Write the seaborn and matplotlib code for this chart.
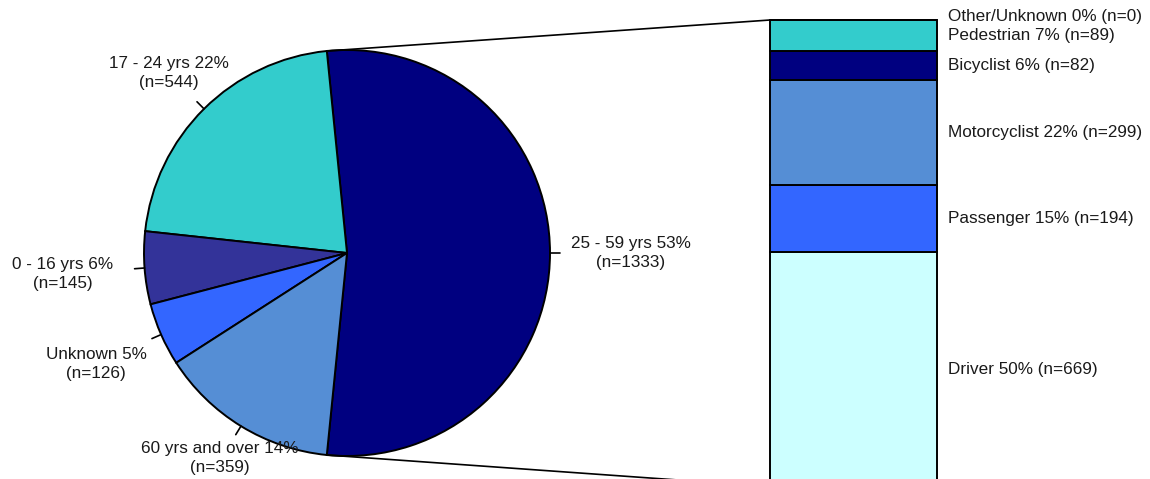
import numpy as np
import matplotlib
matplotlib.use("Agg")
import matplotlib.pyplot as plt
import seaborn as sns

# --- DATA ---
age_groups = ["25 - 59 yrs", "17 - 24 yrs", "0 - 16 yrs", "Unknown", "60 yrs and over"]
age_counts = [1333, 544, 145, 126, 359]
age_pct = [53, 22, 6, 5, 14]
age_colors = ["#000080", "#33CCCC", "#333399", "#3366FF", "#558ED5"]

road_users = ["Driver", "Passenger", "Motorcyclist", "Bicyclist", "Pedestrian", "Other/Unknown"]
user_counts = [669, 194, 299, 82, 89, 0]
user_pct = [50, 15, 22, 6, 7, 0]
user_colors = ["#CCFFFF", "#3366FF", "#558ED5", "#000080", "#33CCCC", "#33CCCC"]

sns.set_theme(style="white")
plt.rcParams["font.family"] = ["Liberation Sans", "DejaVu Sans"]

W, H = 1150, 479
fig = plt.figure(figsize=(11.5, 4.79), dpi=100)
ax = fig.add_axes([0, 0, 1, 1])


def Y(py):
    # pixel row -> data y
    return H - py


FS = 12.3

# --- PIE ---
cx, cy, r = 347, Y(253), 203
frac0 = age_counts[0] / sum(age_counts)
start = -frac0 * 180
wedges, _ = ax.pie(age_counts, colors=age_colors, startangle=start, counterclock=True,
                   center=(cx, cy), radius=r,
                   wedgeprops=dict(edgecolor="black", linewidth=1.4))

txt_kw = dict(fontsize=FS, color="#1a1a1a", ha="center", va="center", linespacing=1.35)
label_pos = [(631, 253), (169, 73), (63, 274), (96, 364), (220, 458)]
for w, name, n, p, (tx, ty) in zip(wedges, age_groups, age_counts, age_pct, label_pos):
    mid = np.deg2rad((w.theta1 + w.theta2) / 2)
    x0, y0 = cx + r * np.cos(mid), cy + r * np.sin(mid)
    x1, y1 = cx + (r + 10) * np.cos(mid), cy + (r + 10) * np.sin(mid)
    ax.plot([x0, x1], [y0, y1], color="black", lw=1.2)
    ax.text(tx, Y(ty), f"{name} {p}%\n(n={n})", **txt_kw)

# --- STACKED BAR ---
scale = 0.35
bar_left, bar_w = 770, 167
bar_bottom = Y(20) - sum(user_counts) * scale
bottoms = bar_bottom + np.concatenate([[0], np.cumsum(user_counts)[:-1]]) * scale
ax.bar([bar_left + bar_w / 2] * len(user_counts), np.array(user_counts) * scale,
       bottom=bottoms, width=bar_w, color=user_colors, edgecolor="black", linewidth=1.4)

for name, n, p, b in zip(road_users, user_counts, user_pct, bottoms):
    yc = b + n * scale / 2
    if n == 0:
        yc += 4
    ax.text(948, yc, f"{name} {p}% (n={n})", fontsize=FS, color="#1a1a1a",
            ha="left", va="center")

# --- CONNECTOR LINES ---
t_top = np.deg2rad(wedges[0].theta2)
t_bot = np.deg2rad(wedges[0].theta1)
ax.plot([cx + r * np.cos(t_top), bar_left], [cy + r * np.sin(t_top), Y(20)],
        color="black", lw=1.2)
ax.plot([cx + r * np.cos(t_bot), bar_left], [cy + r * np.sin(t_bot), bar_bottom],
        color="black", lw=1.2)

ax.set_xlim(0, W)
ax.set_ylim(0, H)
ax.set_aspect("auto")
ax.axis("off")

fig.savefig("out.png", dpi=100, facecolor="white")
